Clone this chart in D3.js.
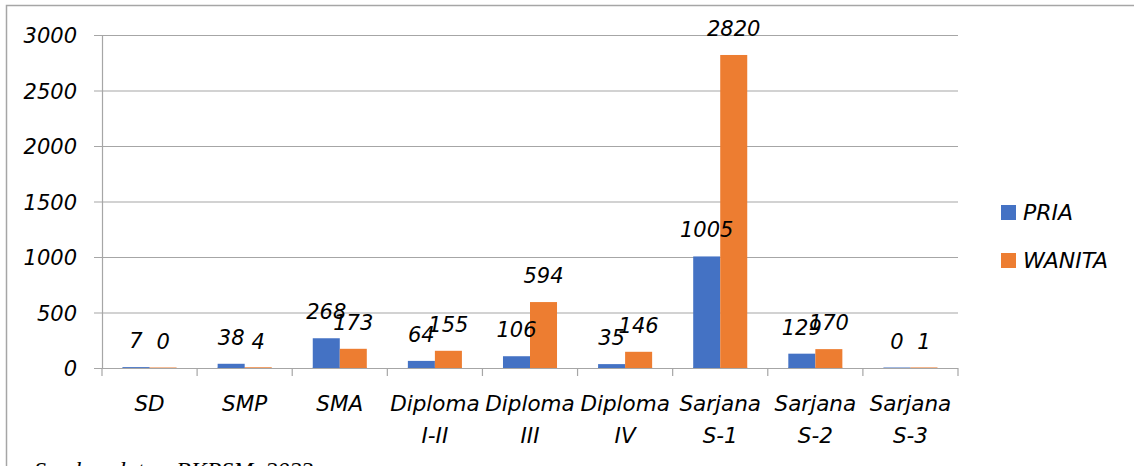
<!DOCTYPE html>
<html>
<head>
<meta charset="utf-8">
<script src="https://cdn.jsdelivr.net/npm/d3@7"></script>
<style>
  html, body { margin: 0; padding: 0; background: #fff; }
  svg { display: block; }
  text { font-family: "DejaVu Sans", "Open Sans", sans-serif; font-style: italic; fill: #000; }
</style>
</head>
<body>
<svg id="chart" width="1134" height="466"></svg>
<script>
// Education level of employees, by sex
const categories = [["SD"], ["SMP"], ["SMA"], ["Diploma", "I-II"], ["Diploma", "III"], ["Diploma", "IV"], ["Sarjana", "S-1"], ["Sarjana", "S-2"], ["Sarjana", "S-3"]];
const seriesNames = ["PRIA", "WANITA"];
const pria = [7, 38, 268, 64, 106, 35, 1005, 129, 0];
const wanita = [0, 4, 173, 155, 594, 146, 2820, 170, 1];
const yTicks = [0, 500, 1000, 1500, 2000, 2500, 3000];
const source = "Sumber data : BKPSM, 2023";

const colors = ["#4472C4", "#ED7D31"];
const svg = d3.select("#chart");

// outer frame
svg.append("rect").attr("x", 6.5).attr("y", 5.5).attr("width", 1140).attr("height", 500)
  .attr("fill", "none").attr("stroke", "#a6a6a6").attr("stroke-width", 1.5);

const plotLeft = 102, plotRight = 958, plotTop = 35, plotBottom = 368;
const keys = categories.map((c, i) => i);
const x = d3.scaleBand().domain(keys).range([plotLeft, plotRight]).paddingInner(0).paddingOuter(0);
const x1 = d3.scaleBand().domain([0, 1]).range([0, x.bandwidth()]).paddingInner(0).paddingOuter(0.76);
const y = d3.scaleLinear().domain([0, 3000]).range([plotBottom, plotTop]);

// gridlines
svg.append("g").selectAll("line").data(yTicks.filter(t => t > 0)).join("line")
  .attr("x1", plotLeft - 8).attr("x2", plotRight)
  .attr("y1", d => y(d) + 0.5).attr("y2", d => y(d) + 0.5)
  .attr("stroke", "#a6a6a6").attr("stroke-width", 1.2);

// y axis labels
const yAxis = d3.axisLeft(y).tickValues(yTicks).tickFormat(d3.format("d")).tickSize(0).tickPadding(25);
const gy = svg.append("g").attr("transform", `translate(${plotLeft},0)`).call(yAxis);
gy.select(".domain").attr("stroke", "#a6a6a6").attr("stroke-width", 1.2);
gy.selectAll("text").attr("font-size", 21).attr("dy", "0.36em")
  .style("font-family", '"DejaVu Sans", sans-serif').style("font-style", "italic");

// bars
const groups = svg.append("g").selectAll("g").data(keys).join("g")
  .attr("transform", d => `translate(${x(d)},0)`);
const vals = [pria, wanita];
groups.selectAll("rect").data(d => [0, 1].map(s => ({ s, v: vals[s][d] }))).join("rect")
  .attr("x", d => x1(d.s)).attr("width", x1.bandwidth())
  .attr("y", d => y(d.v)).attr("height", d => y(0) - y(d.v))
  .attr("fill", d => colors[d.s]);
// faint baseline trace under each bar
groups.selectAll("line.zero").data(d => [0, 1].map(s => ({ s, v: vals[s][d] }))).join("line")
  .attr("class", "zero")
  .attr("x1", d => x1(d.s)).attr("x2", d => x1(d.s) + x1.bandwidth())
  .attr("y1", y(0) - 0.5).attr("y2", y(0) - 0.5)
  .attr("stroke", d => colors[d.s]).attr("stroke-opacity", 0.5).attr("stroke-width", 1);

// value labels
groups.selectAll("text.val").data(d => [0, 1].map(s => ({ s, v: vals[s][d] }))).join("text")
  .attr("class", "val")
  .attr("x", d => x1(d.s) + x1.bandwidth() / 2)
  .attr("y", d => y(d.v) - 19)
  .attr("text-anchor", "middle").attr("font-size", 21)
  .text(d => d.v);

// x axis line and ticks
const gx = svg.append("g");
gx.append("line").attr("x1", plotLeft - 8).attr("x2", plotRight).attr("y1", plotBottom + 0.5).attr("y2", plotBottom + 0.5)
  .attr("stroke", "#a6a6a6").attr("stroke-width", 1.2);
gx.selectAll("line.tick").data(keys.concat([keys.length])).join("line").attr("class", "tick")
  .attr("x1", d => d < keys.length ? x(d) : plotRight).attr("x2", d => d < keys.length ? x(d) : plotRight)
  .attr("y1", plotBottom).attr("y2", plotBottom + 8)
  .attr("stroke", "#a6a6a6").attr("stroke-width", 1.2);
const cl = gx.selectAll("text").data(keys).join("text")
  .attr("x", d => x(d) + x.bandwidth() / 2).attr("y", 411)
  .attr("text-anchor", "middle").attr("font-size", 21.5);
cl.selectAll("tspan").data(d => categories[d].map((t, i) => ({ t, i, c: d }))).join("tspan")
  .attr("x", d => x(d.c) + x.bandwidth() / 2)
  .attr("dy", d => d.i === 0 ? 0 : 32)
  .text(d => d.t);

// legend
const lg = svg.append("g").selectAll("g").data(seriesNames).join("g")
  .attr("transform", (d, i) => `translate(1001,${205 + i * 48})`);
lg.append("rect").attr("width", 15).attr("height", 15).attr("fill", (d, i) => colors[i]);
lg.append("text").attr("x", 22).attr("y", 15).attr("font-size", 22).text(d => d);

// source note
svg.append("text").attr("x", 34).attr("y", 478).attr("font-size", 24)
  .style("font-family", '"Liberation Serif", "DejaVu Serif", serif')
  .text(source);
</script>
</body>
</html>
